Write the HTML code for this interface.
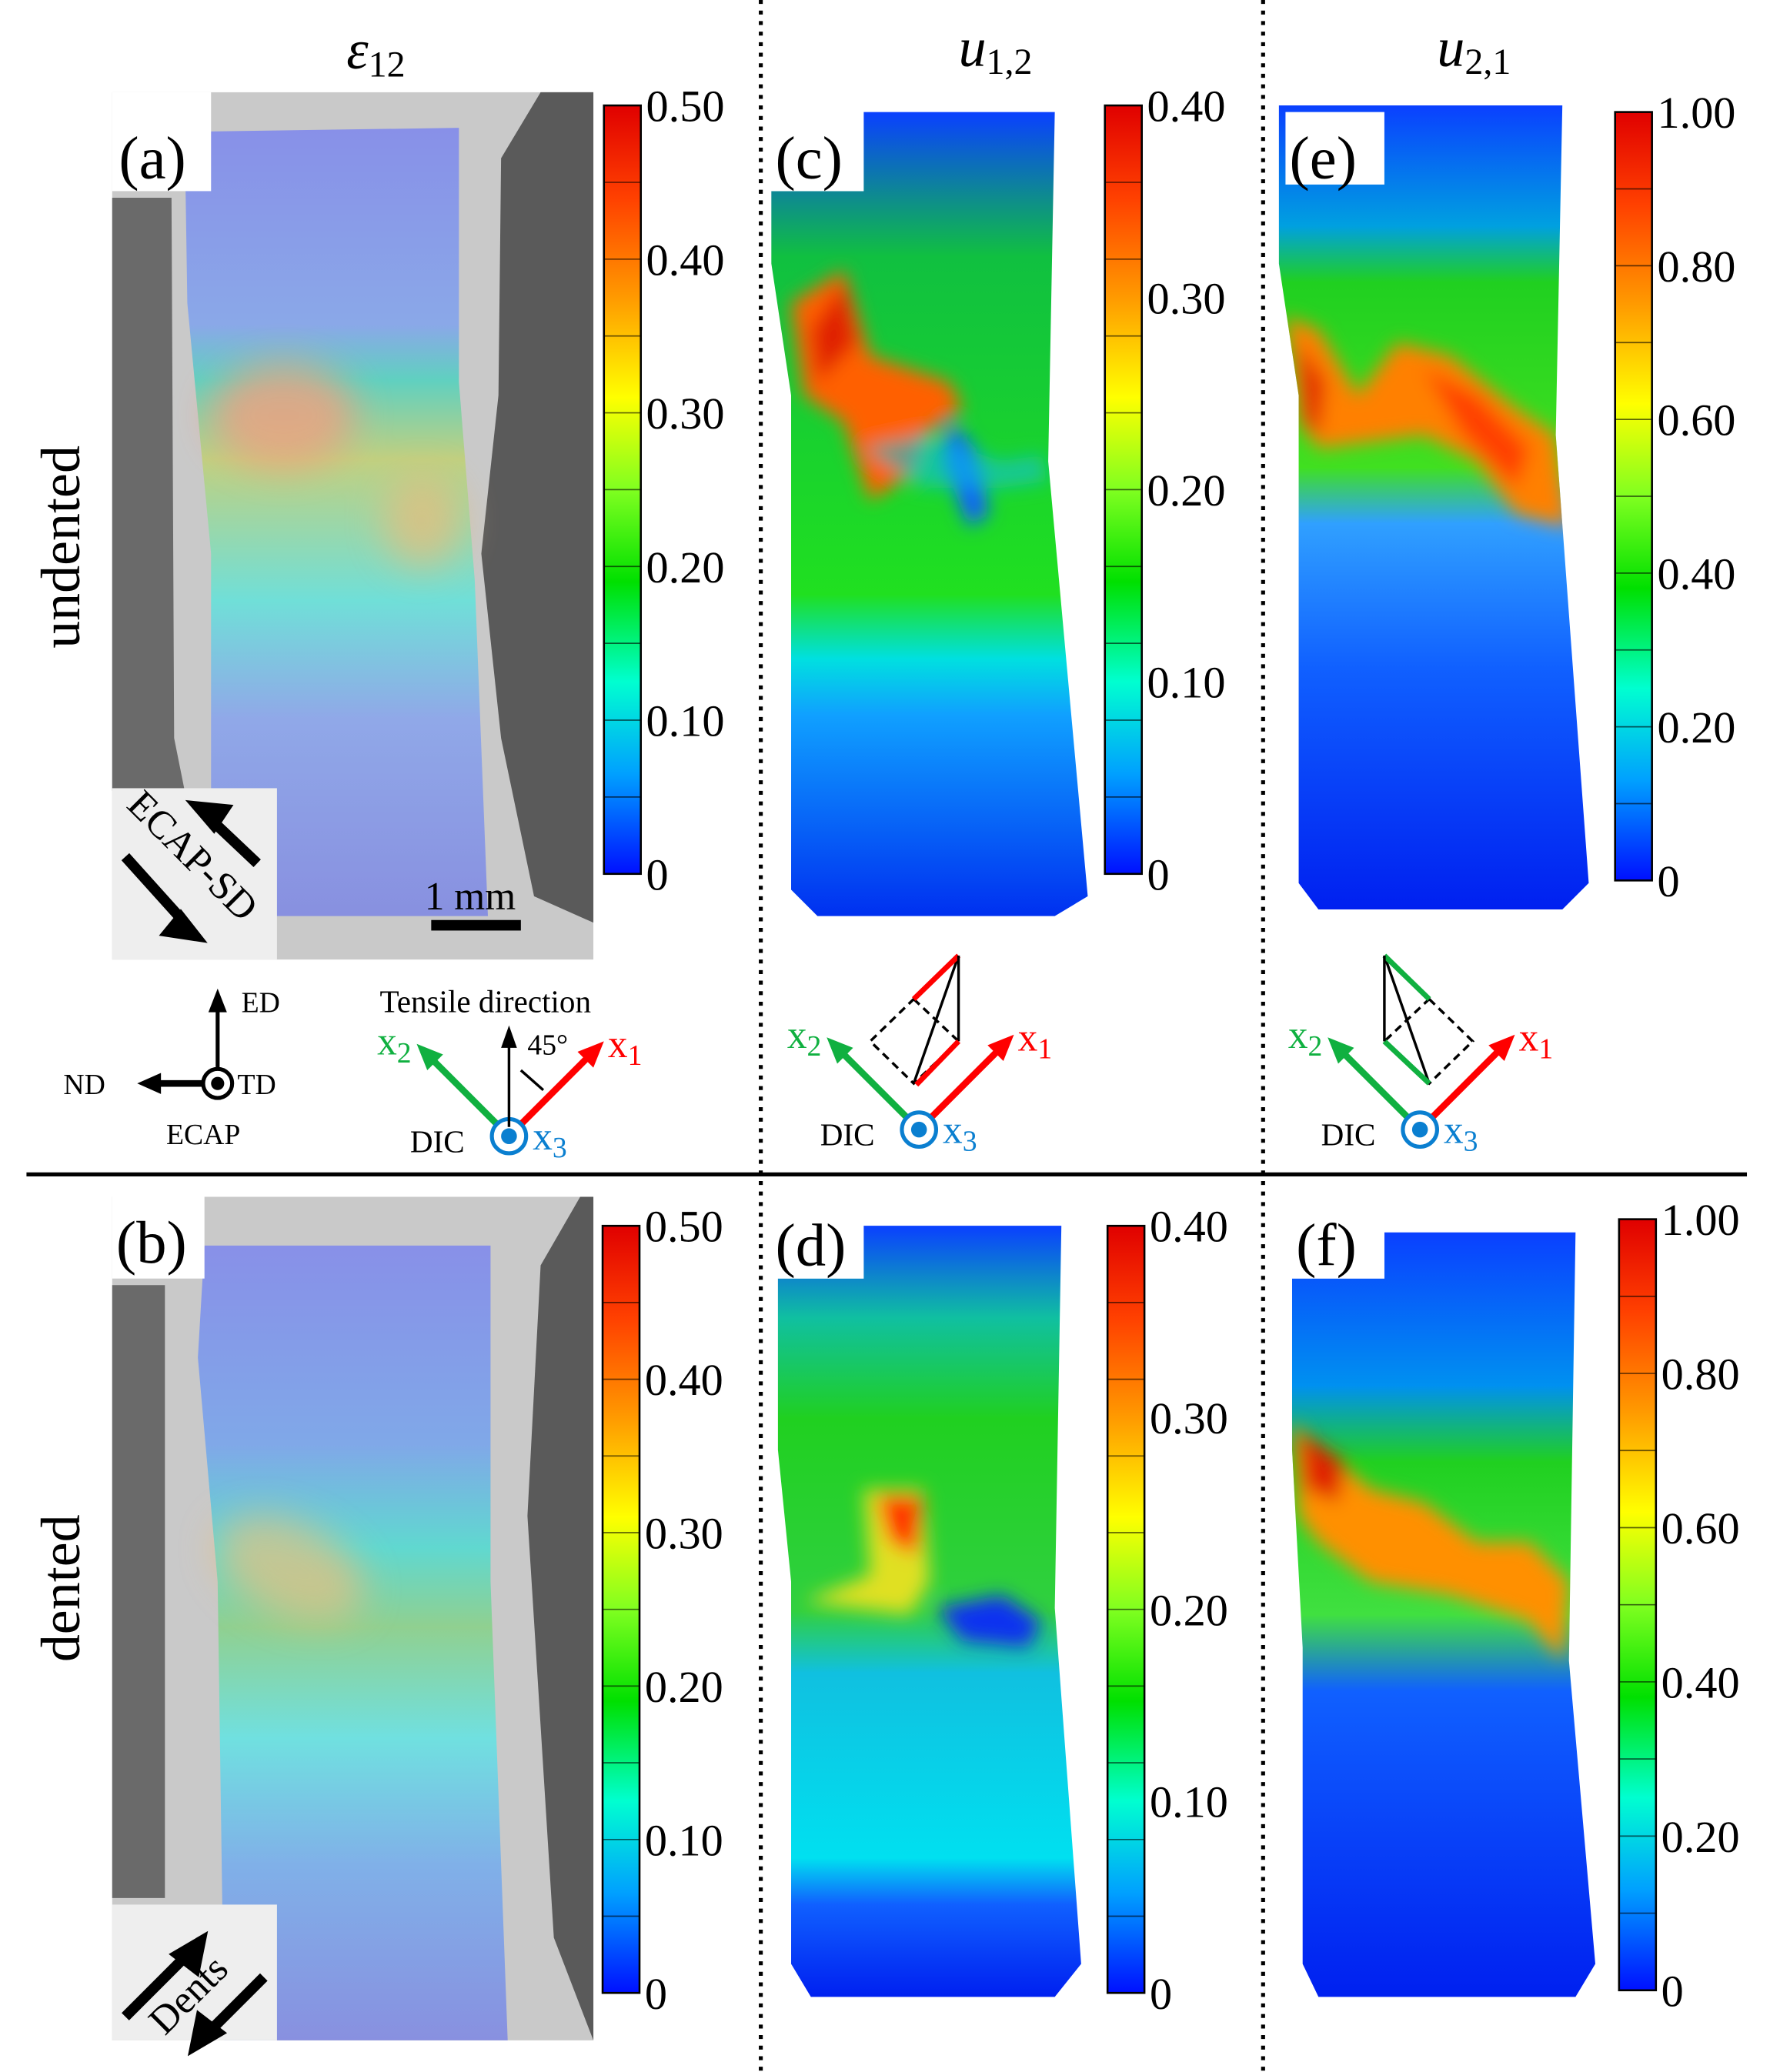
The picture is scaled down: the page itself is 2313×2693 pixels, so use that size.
<!DOCTYPE html>
<html><head><meta charset="utf-8"><style>
html,body{margin:0;padding:0;background:#fff}
svg{display:block}
text{font-family:"Liberation Serif",serif}
</style></head><body>
<svg id="fig" width="2313" height="2693" viewBox="0 0 1350 1572" xmlns="http://www.w3.org/2000/svg">
<defs>
<linearGradient id="jet" x1="0" y1="0" x2="0" y2="1">
<stop offset="0" stop-color="#e00000"/><stop offset="0.12" stop-color="#ff4000"/><stop offset="0.25" stop-color="#ff9a00"/><stop offset="0.38" stop-color="#ffff00"/><stop offset="0.5" stop-color="#80ff20"/><stop offset="0.62" stop-color="#00e000"/><stop offset="0.75" stop-color="#00ffd0"/><stop offset="0.87" stop-color="#00a0ff"/><stop offset="1" stop-color="#0010ff"/>
</linearGradient>
<filter id="blur" x="-30%" y="-30%" width="160%" height="160%"><feGaussianBlur stdDeviation="14"/></filter>
<filter id="blur2" x="-30%" y="-30%" width="160%" height="160%"><feGaussianBlur stdDeviation="7"/></filter>
<linearGradient id="gc" x1="0" y1="0" x2="0" y2="1">
<stop offset="0" stop-color="#0a40ff"/><stop offset="0.18" stop-color="#10c040"/><stop offset="0.6" stop-color="#20e020"/><stop offset="0.68" stop-color="#00e0e0"/><stop offset="0.75" stop-color="#10a0ff"/><stop offset="1" stop-color="#0030f0"/>
</linearGradient>
<linearGradient id="ge" x1="0" y1="0" x2="0" y2="1">
<stop offset="0" stop-color="#0a40ff"/><stop offset="0.15" stop-color="#00a0e0"/><stop offset="0.22" stop-color="#20d020"/><stop offset="0.45" stop-color="#40e020"/><stop offset="0.52" stop-color="#30a0ff"/><stop offset="0.7" stop-color="#1060ff"/><stop offset="1" stop-color="#0020f0"/>
</linearGradient>
<linearGradient id="gd" x1="0" y1="0" x2="0" y2="1">
<stop offset="0" stop-color="#0a40ff"/><stop offset="0.12" stop-color="#10c0a0"/><stop offset="0.25" stop-color="#20d020"/><stop offset="0.5" stop-color="#30d040"/><stop offset="0.58" stop-color="#10c0e0"/><stop offset="0.82" stop-color="#00e0f0"/><stop offset="0.88" stop-color="#1060ff"/><stop offset="1" stop-color="#0020f0"/>
</linearGradient>
<linearGradient id="gf" x1="0" y1="0" x2="0" y2="1">
<stop offset="0" stop-color="#0a40ff"/><stop offset="0.2" stop-color="#0090f0"/><stop offset="0.3" stop-color="#20d020"/><stop offset="0.5" stop-color="#40e040"/><stop offset="0.6" stop-color="#1060ff"/><stop offset="1" stop-color="#0020f0"/>
</linearGradient>
<linearGradient id="ga" x1="0" y1="0" x2="0" y2="1">
<stop offset="0" stop-color="#8890e8"/><stop offset="0.25" stop-color="#8aa8e8"/><stop offset="0.32" stop-color="#60d0c0"/><stop offset="0.42" stop-color="#c0d080"/><stop offset="0.6" stop-color="#70dfd8"/><stop offset="0.75" stop-color="#90a8e8"/><stop offset="1" stop-color="#8890e0"/>
</linearGradient>
<linearGradient id="gb" x1="0" y1="0" x2="0" y2="1">
<stop offset="0" stop-color="#8890e8"/><stop offset="0.25" stop-color="#80a8e8"/><stop offset="0.38" stop-color="#60d8d0"/><stop offset="0.48" stop-color="#90d090"/><stop offset="0.62" stop-color="#70e0e0"/><stop offset="0.78" stop-color="#80b0e8"/><stop offset="1" stop-color="#8890e0"/>
</linearGradient>
</defs>

<!-- titles -->
<text x="285" y="52" font-size="42" font-style="italic" text-anchor="middle">ε<tspan font-size="28" font-style="normal" dy="6">12</tspan></text>
<text x="755" y="50" font-size="42" font-style="italic" text-anchor="middle">u<tspan font-size="28" font-style="normal" dy="6">1,2</tspan></text>
<text x="1118" y="50" font-size="42" font-style="italic" text-anchor="middle">u<tspan font-size="28" font-style="normal" dy="6">2,1</tspan></text>

<text transform="translate(60,415) rotate(-90)" font-size="42" text-anchor="middle">undented</text>
<text transform="translate(60,1205) rotate(-90)" font-size="42" text-anchor="middle">dented</text>

<line x1="577" y1="0" x2="577" y2="1572" stroke="#000" stroke-width="3" stroke-dasharray="3,5"/>
<line x1="958" y1="0" x2="958" y2="1572" stroke="#000" stroke-width="3" stroke-dasharray="3,5"/>
<line x1="20" y1="891" x2="1325" y2="891" stroke="#000" stroke-width="3"/>

<!-- panel a -->
<g>
<rect x="85" y="70" width="365" height="658" fill="#c9c9c9"/>
<path d="M85 150 L130 150 L132 560 L140 600 L85 600 Z" fill="#6a6a6a"/>
<path d="M450 70 L410 70 L380 120 L378 300 L365 420 L380 560 L405 680 L450 700 Z" fill="#5a5a5a"/>
<path d="M140 100 L348 97 L348 290 L360 440 L370 695 L160 695 L160 420 L142 230 Z" fill="url(#ga)"/>
<g filter="url(#blur)" opacity="0.8">
<ellipse cx="215" cy="315" rx="55" ry="40" fill="#f0a080"/>
<ellipse cx="320" cy="395" rx="30" ry="35" fill="#e0c080"/>
</g>
<rect x="85" y="70" width="75" height="75" fill="#fff"/>
<text x="90" y="135" font-size="46">(a)</text>
<rect x="85" y="598" width="125" height="130" fill="#eee"/>
<path d="M195 655 L158 620 M150 612 l20 2 -8 12 z" stroke="#000" stroke-width="8" fill="#000"/>
<path d="M95 650 L140 700 M148 710 l-20 -3 9 -11 z" stroke="#000" stroke-width="8" fill="#000"/>
<text transform="translate(95,612) rotate(45)" font-size="30">ECAP-SD</text>
<text x="322" y="690" font-size="30">1 mm</text>
<rect x="327" y="698" width="68" height="8" fill="#000"/>
</g>

<!-- panel b -->
<g>
<rect x="85" y="908" width="365" height="640" fill="#c9c9c9"/>
<path d="M85 975 L125 975 L125 1440 L85 1440 Z" fill="#6a6a6a"/>
<path d="M450 908 L440 908 L410 960 L400 1150 L420 1470 L450 1548 Z" fill="#5a5a5a"/>
<path d="M155 945 L372 945 L372 1200 L385 1548 L170 1548 L165 1200 L150 1030 Z" fill="url(#gb)"/>
<g filter="url(#blur)" opacity="0.7"><ellipse cx="220" cy="1190" rx="60" ry="35" fill="#e8c080" transform="rotate(25 220 1190)"/></g>
<rect x="85" y="908" width="70" height="62" fill="#fff"/>
<text x="88" y="958" font-size="46">(b)</text>
<rect x="85" y="1445" width="125" height="103" fill="#eee"/>
<path d="M95 1530 L140 1485 M152 1473 l-4 20 -13 -10 z" stroke="#000" stroke-width="8" fill="#000"/>
<path d="M200 1500 L160 1540 M148 1552 l4 -20 13 10 z" stroke="#000" stroke-width="8" fill="#000"/>
<text transform="translate(125,1545) rotate(-45)" font-size="30">Dents</text>
</g>

<!-- panel c -->
<g>
<path id="pc" d="M585 145 L655 145 L655 85 L800 85 L795 350 L825 680 L800 695 L620 695 L600 675 L600 300 L585 200 Z" fill="url(#gc)"/>
<clipPath id="cc"><use href="#pc"/></clipPath>
<g clip-path="url(#cc)">
<g filter="url(#blur2)">
<polygon points="600,230 640,205 660,270 720,290 730,310 700,330 690,360 660,380 640,320 610,300" fill="#ff6000"/>
<polygon points="615,250 640,215 650,260 620,290" fill="#e02000"/>
<polygon points="720,320 740,340 750,390 735,400 715,350" fill="#1060ff"/>
<polygon points="655,340 700,330 760,350 790,345 795,365 760,370 700,370" fill="#10c0e0" opacity="0.6"/>
</g></g>
<rect x="585" y="85" width="70" height="60" fill="#fff"/>
<text x="588" y="135" font-size="46">(c)</text>
</g>

<!-- panel e -->
<g>
<path id="pe" d="M970 80 L1185 80 L1180 330 L1205 670 L1185 690 L1000 690 L985 670 L985 300 L970 200 Z" fill="url(#ge)"/>
<clipPath id="ce"><use href="#pe"/></clipPath>
<g clip-path="url(#ce)"><g filter="url(#blur2)">
<polygon points="975,240 1000,250 1030,300 1060,260 1100,270 1150,310 1180,330 1190,400 1150,390 1120,350 1080,330 1040,335 1000,340 985,320" fill="#ff8000"/>
<polygon points="985,260 1005,290 1000,330 990,320" fill="#e02000"/>
<polygon points="1080,280 1120,300 1160,340 1150,370 1110,330" fill="#ff4000"/>
</g></g>
<rect x="975" y="85" width="75" height="55" fill="#fff"/>
<text x="978" y="135" font-size="46">(e)</text>
</g>

<!-- panel d -->
<g>
<path id="pd" d="M590 970 L655 970 L655 930 L805 930 L800 1220 L820 1490 L800 1515 L615 1515 L600 1490 L600 1200 L590 1100 Z" fill="url(#gd)"/>
<clipPath id="cd"><use href="#pd"/></clipPath>
<g clip-path="url(#cd)"><g filter="url(#blur2)">
<polygon points="655,1130 700,1130 705,1200 690,1225 610,1215 660,1195" fill="#e0e020"/>
<polygon points="665,1135 700,1135 695,1180 675,1170" fill="#ff3000"/>
<polygon points="710,1220 760,1210 790,1230 780,1250 730,1245" fill="#1030f0"/>
</g></g>
<rect x="590" y="930" width="65" height="40" fill="#fff"/>
<text x="588" y="960" font-size="46">(d)</text>
</g>

<!-- panel f -->
<g>
<path id="pf" d="M980 970 L1050 970 L1050 935 L1195 935 L1190 1260 L1210 1490 L1195 1515 L1000 1515 L988 1490 L988 1250 L980 1100 Z" fill="url(#gf)"/>
<clipPath id="cf"><use href="#pf"/></clipPath>
<g clip-path="url(#cf)"><g filter="url(#blur2)">
<polygon points="980,1080 1040,1130 1080,1140 1120,1170 1160,1170 1190,1200 1185,1260 1160,1230 1100,1210 1040,1200 1000,1170 985,1150" fill="#ff9000"/>
<polygon points="985,1085 1020,1110 1015,1140 990,1130" fill="#e02000"/>
</g></g>
<rect x="980" y="935" width="70" height="35" fill="#fff"/>
<text x="983" y="960" font-size="46">(f)</text>
</g>

<g id="cbars"></g>

<!-- diagrams -->
<g font-size="22">
<line x1="165" y1="822" x2="165" y2="762" stroke="#000" stroke-width="3"/><polygon points="158,768 172,768 165,750" fill="#000"/>
<line x1="156" y1="822" x2="120" y2="822" stroke="#000" stroke-width="5"/><polygon points="122,814 122,830 104,822" fill="#000"/>
<circle cx="165" cy="822" r="11" fill="#fff" stroke="#000" stroke-width="3"/><circle cx="165" cy="822" r="5" fill="#000"/>
<text x="183" y="768">ED</text><text x="48" y="830">ND</text><text x="180" y="830">TD</text><text x="126" y="868">ECAP</text>
</g>
<g id="dic1"></g>
<g id="dic2"></g>
<g id="dic3"></g>
<text x="288" y="768" font-size="24">Tensile direction</text>
<line x1="386" y1="855" x2="386" y2="790" stroke="#000" stroke-width="2"/><polygon points="380,795 392,795 386,778" fill="#000"/>
<text x="400" y="800" font-size="22">45°</text>
<path d="M395 812 L412 827" stroke="#000" stroke-width="2"/>
<!-- parallelograms -->
<g fill="none" stroke-width="3">
<polygon points="693,758 727,790 693,822 660,790" stroke="#000" stroke-dasharray="6,4" stroke-width="2"/>
<line x1="693" y1="822" x2="727" y2="725" stroke="#000" stroke-width="2"/>
<line x1="693" y1="758" x2="727" y2="725" stroke="#f00" stroke-width="4"/>
<line x1="727" y1="790" x2="727" y2="725" stroke="#000" stroke-width="2"/>
<line x1="695" y1="823" x2="727" y2="790" stroke="#f00" stroke-width="4"/>
</g>
<g fill="none" stroke-width="2">
<polygon points="1084,758 1117,790 1084,822 1050,790" stroke="#000" stroke-dasharray="6,4"/>
<line x1="1050" y1="725" x2="1084" y2="822" stroke="#000"/>
<line x1="1084" y1="758" x2="1050" y2="725" stroke="#10b040" stroke-width="4"/>
<line x1="1050" y1="790" x2="1084" y2="822" stroke="#10b040" stroke-width="4"/>
<line x1="1050" y1="790" x2="1050" y2="725" stroke="#000"/>
</g>
</svg>
<script>
const cbPanels = ['a','c','e','b','d','f'];
const cbTicksA = ['0.50','0.40','0.30','0.20','0.10','0'];
const cbTicksC = ['0.40','0.30','0.20','0.10','0'];
const cbTicksE = ['1.00','0.80','0.60','0.40','0.20','0'];
const cbValsA = [0.5,0.4,0.3,0.2,0.1,0];
const cbValsC = [0.4,0.3,0.2,0.1,0];
const cbValsE = [1,0.8,0.6,0.4,0.2,0];
const NS='http://www.w3.org/2000/svg';
function mk(t,a,p){const e=document.createElementNS(NS,t);for(const k in a)e.setAttribute(k,a[k]);p.appendChild(e);return e;}
const cfg={a:[458,80,663,cbTicksA,cbValsA,0.5],c:[838,80,663,cbTicksC,cbValsC,0.4],e:[1225,85,668,cbTicksE,cbValsE,1],
b:[457,930,1512,cbTicksA,cbValsA,0.5],d:[840,930,1512,cbTicksC,cbValsC,0.4],f:[1228,925,1510,cbTicksE,cbValsE,1]};
const root=document.getElementById('cbars');
cbPanels.forEach(p=>{
 const [x,y0,y1,labs,vals,max]=cfg[p];
 const g=mk('g',{},root);
 
 
 mk('rect',{x:x,y:y0,width:28,height:y1-y0,fill:'url(#jet)',stroke:'#000','stroke-width':1.5},g);
 const sc=v=>y1-(v/max)*(y1-y0);
 for(let i=1;i<10;i++){const yy=y0+(y1-y0)*i/10;mk('line',{x1:x,x2:x+28,y1:yy,y2:yy,stroke:'#000','stroke-width':1,opacity:0.6},g);}
 vals.forEach((v,i)=>{const t=mk('text',{x:x+32,y:sc(v)+12,'font-size':34},g);t.textContent=labs[i];
 
 });
});
function dic(id,cx,cy,tens){
 const g=document.getElementById(id);
 mk('line',{x1:cx+6,y1:cy-6,x2:cx+62,y2:cy-62,stroke:'#f00','stroke-width':5},g);
 mk('polygon',{points:`${cx+72},${cy-72} ${cx+52},${cy-64} ${cx+64},${cy-52}`,fill:'#f00'},g);
 mk('line',{x1:cx-6,y1:cy-6,x2:cx-60,y2:cy-60,stroke:'#10b040','stroke-width':5},g);
 mk('polygon',{points:`${cx-70},${cy-70} ${cx-50},${cy-62} ${cx-62},${cy-50}`,fill:'#10b040'},g);
 mk('circle',{cx:cx,cy:cy,r:13,fill:'#fff',stroke:'#0a7fd0','stroke-width':3},g);
 mk('circle',{cx:cx,cy:cy,r:6,fill:'#0a7fd0'},g);
 let t=mk('text',{x:cx-75,y:cy+12,'font-size':24},g);t.textContent='DIC';
 t=mk('text',{x:cx+18,y:cy+10,'font-size':30,fill:'#0a7fd0'},g);t.innerHTML='x<tspan font-size="22" dy="6">3</tspan>';
 t=mk('text',{x:cx+75,y:cy-60,'font-size':30,fill:'#f00'},g);t.innerHTML='x<tspan font-size="22" dy="6">1</tspan>';
 t=mk('text',{x:cx-100,y:cy-62,'font-size':30,fill:'#10b040'},g);t.innerHTML='x<tspan font-size="22" dy="6">2</tspan>';
}
dic('dic1',386,862);dic('dic2',697,857);dic('dic3',1077,857);
</script>
</body></html>
